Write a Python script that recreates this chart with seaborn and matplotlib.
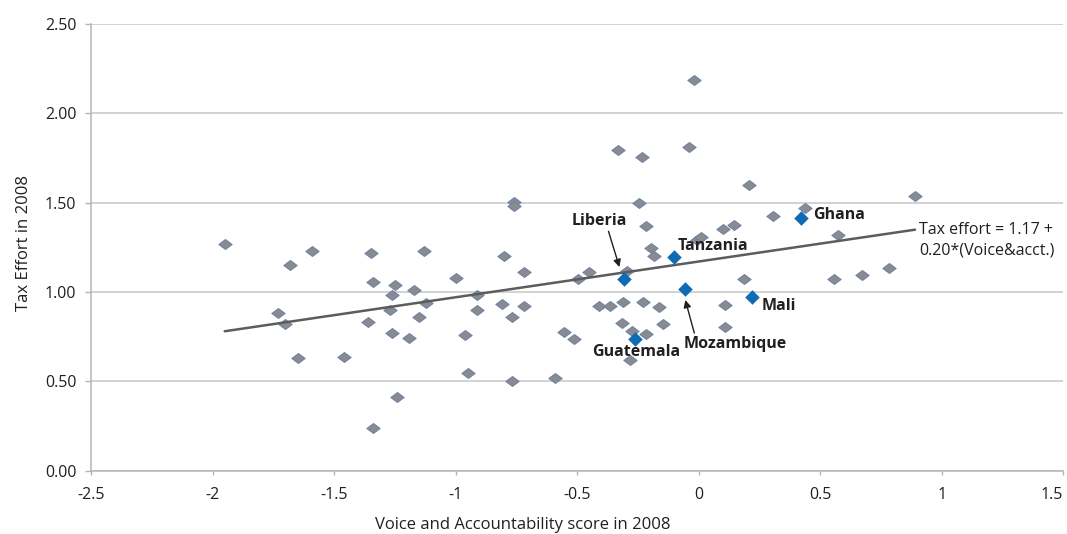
import matplotlib
matplotlib.use("Agg")
import matplotlib.pyplot as plt
from matplotlib.path import Path
import numpy as np
import pandas as pd
import seaborn as sns

# Voice and Accountability score vs. tax effort, 2008
other_voice = [
    -1.95, -1.68, -1.59, -1.73, -1.70, -1.65, -1.46, -1.35, -1.34, -1.36,
    -1.34, -1.25, -1.26, -1.17, -1.13, -1.12, -1.27, -1.15, -1.26, -1.19,
    -1.24, -1.00, -0.80, -0.72, -0.91, -0.91, -0.96, -0.81, -0.72, -0.77,
    -0.95, -0.77, -0.59, -0.76, -0.76, -0.555, -0.514, -0.495, -0.45, -0.295,
    -0.41, -0.365, -0.31, -0.23, -0.165, -0.317, -0.274, -0.216, -0.145, -0.284,
    -0.33, -0.233, -0.038, -0.018, -0.244, -0.216, -0.196, -0.182, -0.007, 0.010,
    0.102, 0.147, 0.209, 0.890, 0.439, 0.304, 0.572, 0.188, 0.558, 0.672,
    0.784, 0.110, 0.110,
]
other_tax = [
    1.27, 1.15, 1.23, 0.88, 0.82, 0.63, 0.634, 1.22, 1.054, 0.83,
    0.24, 1.04, 0.98, 1.01, 1.23, 0.94, 0.90, 0.86, 0.77, 0.74,
    0.41, 1.08, 1.20, 1.11, 0.98, 0.90, 0.76, 0.93, 0.92, 0.86,
    0.545, 0.50, 0.52, 1.505, 1.48, 0.776, 0.738, 1.07, 1.11, 1.115,
    0.92, 0.92, 0.944, 0.944, 0.917, 0.828, 0.781, 0.766, 0.82, 0.617,
    1.794, 1.756, 1.809, 2.185, 1.496, 1.369, 1.246, 1.201, 1.290, 1.305,
    1.350, 1.372, 1.598, 1.536, 1.467, 1.425, 1.318, 1.074, 1.074, 1.095,
    1.132, 0.927, 0.805,
]

highlight_names = ["Liberia", "Tanzania", "Mozambique", "Guatemala", "Mali", "Ghana"]
highlight_voice = [-0.306, -0.100, -0.055, -0.260, 0.218, 0.421]
highlight_tax = [1.070, 1.193, 1.016, 0.738, 0.970, 1.415]

trend_intercept = 1.17
trend_slope = 0.20
trend_label = "Tax effort = 1.17 +\n0.20*(Voice&acct.)"

x_ticks = [-2.5, -2.0, -1.5, -1.0, -0.5, 0.0, 0.5, 1.0, 1.5]
x_tick_labels = ["-2.5", "-2", "-1.5", "-1", "-0.5", "0", "0.5", "1", "1.5"]
y_ticks = [0.0, 0.5, 1.0, 1.5, 2.0, 2.5]
y_tick_labels = ["0.00", "0.50", "1.00", "1.50", "2.00", "2.50"]

x_title = "Voice and Accountability score in 2008"
y_title = "Tax Effort in 2008"

sns.set_theme(style="white")
plt.rcParams["font.family"] = ["Open Sans", "DejaVu Sans"]
plt.rcParams["axes.unicode_minus"] = False

TEXT = "#231f20"
AXIS_GREY = "#b4b4b4"
GRID_GREY = "#c6c6c6"
DOT_GREY = "#8b8b8d"
DOT_EDGE = "#6a80ab"
BLUE = "#0e6cb5"
LINE_GREY = "#5c5c5c"

fig = plt.figure(figsize=(10.67, 5.34), dpi=100)
ax = fig.add_axes([0.0853, 0.1185, 0.9112, 0.8371])

others = pd.DataFrame({"voice": other_voice, "tax": other_tax})
focus = pd.DataFrame({"country": highlight_names, "voice": highlight_voice,
                      "tax": highlight_tax})

flat_diamond = Path([(-1, 0), (0, 0.75), (1, 0), (0, -0.75), (-1, 0)],
                    [Path.MOVETO, Path.LINETO, Path.LINETO, Path.LINETO, Path.CLOSEPOLY])
diamond = Path([(-1, 0), (0, 1), (1, 0), (0, -1), (-1, 0)],
               [Path.MOVETO, Path.LINETO, Path.LINETO, Path.LINETO, Path.CLOSEPOLY])

sns.scatterplot(data=others, x="voice", y="tax", ax=ax, marker=flat_diamond,
                s=92, color=DOT_GREY, edgecolor=DOT_EDGE, linewidth=0.7,
                zorder=3, legend=False)

# fitted line across the range of the data
all_x = np.array(other_voice + highlight_voice)
fit_x = np.array([all_x.min(), all_x.max()])
fit_y = trend_intercept + trend_slope * fit_x
sns.lineplot(x=fit_x, y=fit_y, ax=ax, color=LINE_GREY, linewidth=1.8, zorder=4)

sns.scatterplot(data=focus, x="voice", y="tax", ax=ax, marker=diamond,
                s=100, color=BLUE, edgecolor=BLUE, linewidth=0.3,
                zorder=5, legend=False)

# country labels
label_style = dict(fontsize=11.5, fontweight="bold", color=TEXT, va="center", zorder=6)
ax.text(-0.408, 1.395, "Liberia", ha="center", **label_style)
ax.text(-0.088, 1.257, "Tanzania", ha="left", **label_style)
ax.text(0.472, 1.430, "Ghana", ha="left", **label_style)
ax.text(0.257, 0.923, "Mali", ha="left", **label_style)
ax.text(-0.063, 0.711, "Mozambique", ha="left", **label_style)
ax.text(-0.437, 0.666, "Guatemala", ha="left", **label_style)

arrow_style = dict(arrowstyle="-|>", color=TEXT, lw=1.0, mutation_scale=11,
                   shrinkA=0, shrinkB=0)
ax.annotate("", xy=(-0.326, 1.139), xytext=(-0.371, 1.339), arrowprops=arrow_style, zorder=6)
ax.annotate("", xy=(-0.055, 0.955), xytext=(-0.018, 0.770), arrowprops=arrow_style, zorder=6)

ax.text(0.907, 1.290, trend_label, ha="left", va="center", fontsize=11.5,
        color=TEXT, linespacing=1.38, zorder=6)

ax.set_xlim(-2.5, 1.5)
ax.set_ylim(0, 2.5)
ax.set_xticks(x_ticks)
ax.set_xticklabels(x_tick_labels)
ax.set_yticks(y_ticks)
ax.set_yticklabels(y_tick_labels)
# keep the last x label inside the canvas
ax.get_xticklabels()[-1].set_horizontalalignment("right")

ax.yaxis.grid(True, color=GRID_GREY, linewidth=1.1)
ax.xaxis.grid(False)
ax.set_axisbelow(True)

for side in ("top", "right"):
    ax.spines[side].set_visible(False)
for side in ("left", "bottom"):
    ax.spines[side].set_color(AXIS_GREY)
    ax.spines[side].set_linewidth(1.1)

ax.tick_params(axis="y", left=True, length=4, width=1, color=AXIS_GREY,
               pad=6.5, labelsize=11.5, labelcolor=TEXT)
ax.tick_params(axis="x", bottom=True, length=3, width=1, color=AXIS_GREY,
               pad=9, labelsize=11.5, labelcolor=TEXT)

ax.set_xlabel(x_title, fontsize=12, color=TEXT)
ax.set_ylabel(y_title, fontsize=12, color=TEXT)
ax.xaxis.set_label_coords(0.4438, -0.103)
ax.yaxis.set_label_coords(-0.061, 0.51)

fig.savefig("out.png", dpi=100, facecolor="white")
